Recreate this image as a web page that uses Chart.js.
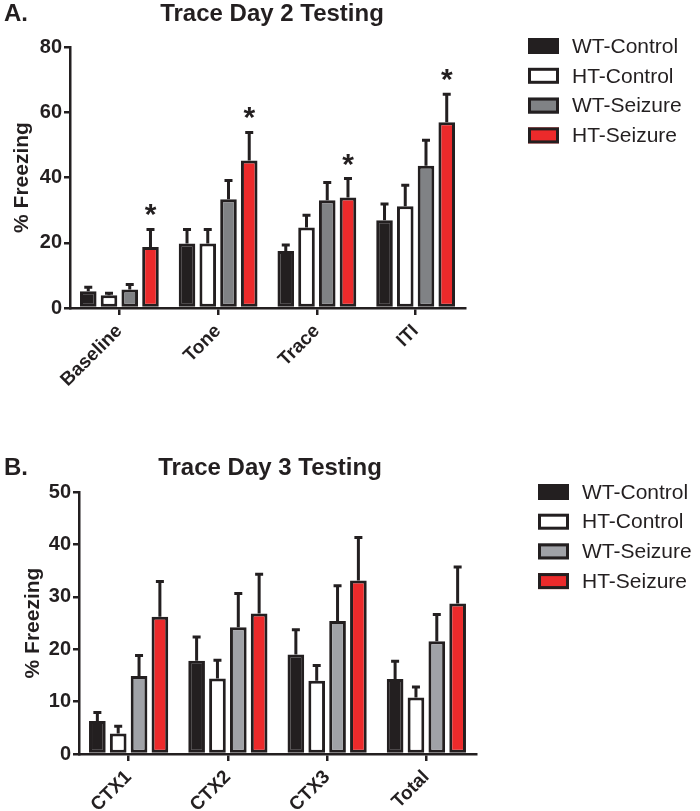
<!DOCTYPE html>
<html>
<head>
<meta charset="utf-8">
<script src="https://cdn.jsdelivr.net/npm/chart.js@4"></script>
<style>
  body { margin: 0; background: #fff; }
  canvas { display: block; }
</style>
</head>
<body>
<canvas id="chartA" width="700" height="410"></canvas>
<canvas id="chartB" width="700" height="401"></canvas>
<script>
var groups = ['WT-Control', 'HT-Control', 'WT-Seizure', 'HT-Seizure'];

// panel A - trace day 2
var labelsA = ['Baseline', 'Tone', 'Trace', 'ITI'];
var wtControlA = [5.1, 19.8, 17.5, 26.9];
var htControlA = [3.9, 19.8, 24.7, 31.2];
var wtSeizureA = [5.7, 33.3, 33.0, 43.6];
var htSeizureA = [18.7, 45.2, 33.9, 56.9];
var wtControlSemA = [1.6, 4.6, 2.1, 5.3];
var htControlSemA = [0.9, 4.6, 4.0, 6.7];
var wtSeizureSemA = [1.8, 6.1, 5.8, 8.1];
var htSeizureSemA = [5.7, 8.9, 6.1, 8.9];
var starsA = [true, true, true, true]; // asterisk over HT-Seizure in each group

// panel B - trace day 3
var labelsB = ['CTX1', 'CTX2', 'CTX3', 'Total'];
var wtControlB = [6.3, 17.8, 19.0, 14.3];
var htControlB = [3.9, 14.4, 14.0, 10.8];
var wtSeizureB = [14.9, 24.2, 25.4, 21.5];
var htSeizureB = [26.2, 26.8, 33.1, 28.7];
var wtControlSemB = [1.8, 4.7, 4.9, 3.6];
var htControlSemB = [1.6, 3.7, 3.1, 2.2];
var wtSeizureSemB = [4.1, 6.6, 6.9, 5.3];
var htSeizureSemB = [6.9, 7.7, 8.4, 7.2];

var ink = '#231f20';
var fontFam = 'Arial, "Liberation Sans", Helvetica, sans-serif';
Chart.defaults.font.family = fontFam;
Chart.defaults.color = ink;

// error bars (upper half only) + optional asterisks
var errorBars = {
  id: 'errorBars',
  afterDatasetsDraw: function(chart, args, opts) {
    var ctx = chart.ctx;
    var yScale = chart.scales.y;
    ctx.save();
    chart.data.datasets.forEach(function(ds, i) {
      var meta = chart.getDatasetMeta(i);
      meta.data.forEach(function(bar, j) {
        var top = yScale.getPixelForValue(ds.data[j] + ds.sem[j]);
        ctx.strokeStyle = ink;
        ctx.lineWidth = 3;
        ctx.beginPath();
        ctx.moveTo(bar.x, bar.y);
        ctx.lineTo(bar.x, top);
        ctx.moveTo(bar.x - 4, top + 1);
        ctx.lineTo(bar.x + 4, top + 1);
        ctx.stroke();
        if (ds.stars && ds.stars[j]) {
          ctx.fillStyle = ink;
          ctx.font = 'bold 30px ' + fontFam;
          ctx.textAlign = 'center';
          ctx.textBaseline = 'alphabetic';
          ctx.fillText('*', bar.x, top - 4);
        }
      });
    });
    ctx.restore();
  }
};

// panel letter, title and legend
var panelText = {
  id: 'panelText',
  afterDraw: function(chart, args, opts) {
    var ctx = chart.ctx;
    ctx.save();
    ctx.fillStyle = ink;
    ctx.textBaseline = 'middle';
    ctx.font = 'bold 24px ' + fontFam;
    ctx.textAlign = 'left';
    ctx.fillText(opts.letter, 4, opts.titleY);
    ctx.textAlign = 'center';
    ctx.fillText(opts.title, opts.titleX, opts.titleY);

    ctx.font = '21px ' + fontFam;
    ctx.textAlign = 'left';
    chart.data.datasets.forEach(function(ds, i) {
      var y = opts.legendY + i * opts.legendStep;
      ctx.fillStyle = ds.backgroundColor;
      ctx.fillRect(opts.legendX, y - 8, 31, 16);
      ctx.strokeStyle = ink;
      ctx.lineWidth = 3;
      ctx.strokeRect(opts.legendX + 1.5, y - 6.5, 28, 13);
      ctx.fillStyle = ink;
      ctx.fillText(ds.label, opts.legendX + 44, y + 1);
    });
    ctx.restore();
  }
};

function makeChart(id, labels, series, sems, grayCol, yMax, yStep, layout, text, stars) {
  var colors = [ink, '#ffffff', grayCol, '#ec2a2b'];
  var datasets = groups.map(function(name, i) {
    return {
      label: name,
      data: series[i],
      sem: sems[i],
      stars: i === 3 ? stars : null,
      backgroundColor: colors[i],
      borderColor: ink,
      borderWidth: 3,
      borderSkipped: false,
      categoryPercentage: 0.84,
      barPercentage: 0.8
    };
  });

  return new Chart(document.getElementById(id), {
    type: 'bar',
    data: { labels: labels, datasets: datasets },
    options: {
      responsive: false,
      animation: false,
      layout: { padding: { top: layout.top, right: layout.right, left: 0, bottom: 0 } },
      plugins: {
        legend: { display: false },
        tooltip: { enabled: false },
        panelText: text
      },
      scales: {
        x: {
          grid: { display: true, drawOnChartArea: false, offset: false, color: ink, lineWidth: 2.5, tickLength: 7 },
          border: { color: ink, width: 2.5 },
          ticks: { minRotation: 45, maxRotation: 45, padding: 5, font: { size: 19, weight: 'bold' } },
          afterFit: function(scale) { scale.height = layout.xHeight; }
        },
        y: {
          min: 0,
          max: yMax,
          grid: { drawOnChartArea: false, color: ink, lineWidth: 2.5, tickLength: 6 },
          border: { color: ink, width: 2.5 },
          ticks: { stepSize: yStep, padding: 2, font: { size: 20, weight: 'bold' } },
          title: { display: true, text: '% Freezing', padding: { top: layout.titlePad, bottom: 0 }, font: { size: 21, weight: 'bold' } },
          afterFit: function(scale) { scale.width = layout.yWidth; }
        }
      }
    },
    plugins: [errorBars, panelText]
  });
}

makeChart('chartA', labelsA,
  [wtControlA, htControlA, wtSeizureA, htSeizureA],
  [wtControlSemA, htControlSemA, wtSeizureSemA, htSeizureSemA],
  '#808285', 80, 20,
  { top: 47, right: 235, xHeight: 102, yWidth: 70, titlePad: 10 },
  { letter: 'A.', title: 'Trace Day 2 Testing', titleX: 272, titleY: 14, legendX: 528, legendY: 46, legendStep: 29.8 },
  starsA);

makeChart('chartB', labelsB,
  [wtControlB, htControlB, wtSeizureB, htSeizureB],
  [wtControlSemB, htControlSemB, wtSeizureSemB, htSeizureSemB],
  '#a0a2a7', 50, 10,
  { top: 82, right: 224, xHeight: 57, yWidth: 79, titlePad: 21 },
  { letter: 'B.', title: 'Trace Day 3 Testing', titleX: 270, titleY: 58, legendX: 538, legendY: 82, legendStep: 29.7 },
  null);
</script>
</body>
</html>
